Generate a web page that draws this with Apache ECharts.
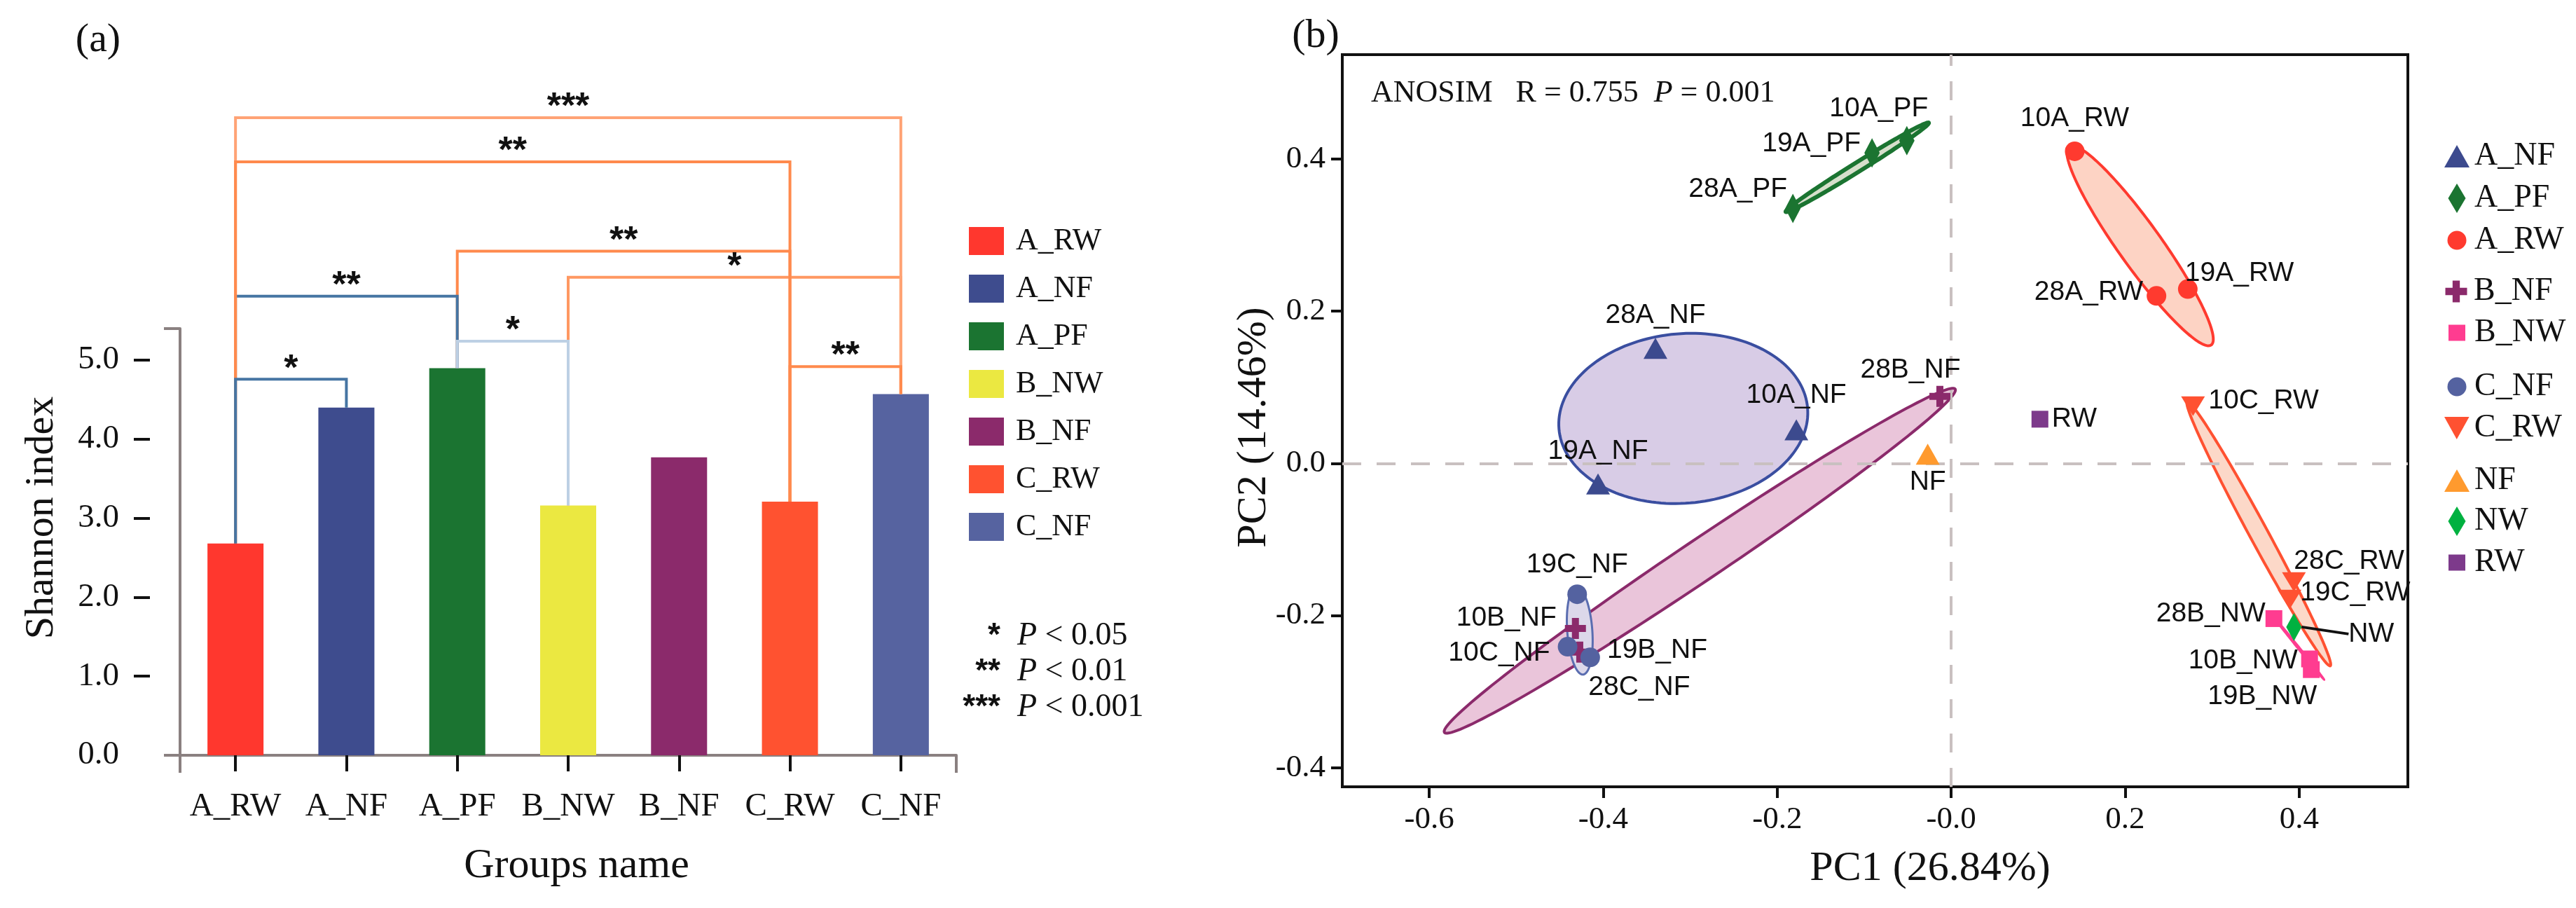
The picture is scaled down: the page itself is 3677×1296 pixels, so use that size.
<!DOCTYPE html>
<html><head><meta charset="utf-8">
<script src="https://cdn.jsdelivr.net/npm/echarts@6/dist/echarts.min.js"></script>
<style>html,body{margin:0;padding:0;background:#fff}#c{width:3677px;height:1296px}</style>
</head><body><div id="c"></div>
<script>
// ---------- panel (a) data ----------
const groups = ['A_RW','A_NF','A_PF','B_NW','B_NF','C_RW','C_NF'];
const shannon = [2.68, 4.40, 4.90, 3.16, 3.77, 3.21, 4.57];
const yTicksA = [0, 1, 2, 3, 4, 5];
// significance brackets (drawing order): from group index, to group index, bracket level, stars
const bracketFrom  = [2, 3, 0, 0, 0, 5, 2, 0];
const bracketTo    = [5, 6, 2, 6, 5, 6, 3, 1];
const bracketLevel = [6.38, 6.05, 5.81, 8.07, 7.51, 4.92, 5.24, 4.76];
const bracketStars = ['**', '*', '**', '***', '**', '**', '*', '*'];
const sigStars = ['*', '**', '***'];
const sigLevels = ['0.05', '0.01', '0.001'];

// ---------- panel (b) data ----------
const pcaGroups = ['A_NF','A_PF','A_RW','B_NF','B_NW','C_NF','C_RW','NF','NW','RW'];
const pts_A_NF = [[-0.178, 0.044, '10A_NF'], [-0.406, -0.027, '19A_NF'], [-0.340, 0.151, '28A_NF']];
const pts_A_PF = [[-0.051, 0.424, '10A_PF'], [-0.091, 0.408, '19A_PF'], [-0.182, 0.335, '28A_PF']];
const pts_A_RW = [[0.142, 0.410, '10A_RW'], [0.272, 0.229, '19A_RW'], [0.236, 0.220, '28A_RW']];
const pts_B_NF = [[-0.432, -0.217, '10B_NF'], [-0.427, -0.248, '19B_NF'], [-0.013, 0.088, '28B_NF']];
const pts_B_NW = [[0.412, -0.257, '10B_NW'], [0.414, -0.271, '19B_NW'], [0.371, -0.204, '28B_NW']];
const pts_C_NF = [[-0.441, -0.241, '10C_NF'], [-0.430, -0.172, '19C_NF'], [-0.415, -0.255, '28C_NF']];
const pts_C_RW = [[0.278, 0.075, '10C_RW'], [0.389, -0.179, '19C_RW'], [0.394, -0.156, '28C_RW']];
const pts_NF = [[-0.027, 0.012, 'NF']];
const pts_NW = [[0.394, -0.215, 'NW']];
const pts_RW = [[0.102, 0.058, 'RW']];
// ellipses: group, centre [x,y], major half-axis vector, minor half-axis vector (data units)
const ellipseGroups = ['A_NF','A_PF','A_RW','B_NF','C_NF','C_RW','B_NW'];
const ellipseCenter = [[-0.308, 0.059], [-0.108, 0.389], [0.2171, 0.2862], [-0.289, -0.128], [-0.427, -0.220], [0.3536, -0.0925], [0.399, -0.242]];
const ellipseMajor  = [[0.1429, 0.0137], [0.0822, 0.0584], [0.0818, -0.1307], [0.2936, 0.2255], [-0.0032, 0.0575], [0.0822, -0.1735], [0.0298, -0.0423]];
const ellipseMinor  = [[0.0081, -0.111], [0.0028, -0.0051], [0.0200, 0.0164], [0.0130, -0.0222], [0.0145, -0.001], [0.0092, 0.0057], [0.0008, 0.0006]];
const pcaXTicks = [-0.6, -0.4, -0.2, 0, 0.2, 0.4];
const pcaXTickLabels = ['-0.6', '-0.4', '-0.2', '-0.0', '0.2', '0.4'];
const pcaYTicks = [-0.4, -0.2, 0, 0.2, 0.4];
const pcaYTickLabels = ['-0.4', '-0.2', '0.0', '0.2', '0.4'];

// ---------- styles ----------
const SERIF = 'Liberation Serif';
const SANS = 'Liberation Sans';
const INK = '#111111';
const AXGREY = '#8a8080';
const barColors = ['#ff372e', '#3e4c8e', '#1b7431', '#ebe841', '#8b2a6b', '#ff5230', '#5663a0'];
const bracketColors = ['#ff8a4d', '#ff9862', '#4675a3', '#ffa375', '#ff8a4d', '#ff8a4d', '#bdd0e4', '#4675a3'];
const pcaColor = {A_NF:'#3c4a8e', A_PF:'#1b7431', A_RW:'#ff3a2f', B_NF:'#8b2a6b', B_NW:'#ff3c90', C_NF:'#5462a0', C_RW:'#ff5131', NF:'#ff9a2e', NW:'#00b140', RW:'#7d3a8b'};
const CROSS = 'path://M2,0H4V2H6V4H4V6H2V4H0V2H2Z';
const DOWNTRI = 'path://M0,0H10L5,9Z';
const pcaSymbol = {A_NF:'triangle', A_PF:'diamond', A_RW:'circle', B_NF:CROSS, B_NW:'rect', C_NF:'circle', C_RW:'triangle', NF:'triangle', NW:'diamond', RW:'rect'};
const pcaRotate = {C_RW:180};
const pcaSize = {A_NF:[34,30], A_PF:[22,42], A_RW:28, B_NF:30, B_NW:24, C_NF:28, C_RW:[34,28], NF:[34,30], NW:[22,40], RW:24};
const legendIcon = {A_NF:'triangle', A_PF:'diamond', A_RW:'circle', B_NF:CROSS, B_NW:'rect', C_NF:'circle', C_RW:DOWNTRI, NF:'triangle', NW:'diamond', RW:'rect'};
const legendIconSize = {A_NF:[36,32], A_PF:[25,42], A_RW:[27,27], B_NF:[33,31], B_NW:[24,23], C_NF:[27,27], C_RW:[36,32], NF:[36,32], NW:[25,42], RW:[24,23]};
const legendRowY = [222, 282, 342, 415, 474, 551, 610, 685, 743, 802];
const ellFill = {A_NF:'#d8cce6', A_PF:'#d6dfcb', A_RW:'#fdd3c4', B_NF:'#eac5da', C_NF:'#dcd8ea', C_RW:'#fcd8c8', B_NW:'rgba(0,0,0,0)'};
const ellStroke = {A_NF:'#3a4ea0', A_PF:'#1b7431', A_RW:'#ff3a2f', B_NF:'#8b2a6b', C_NF:'#5a6db0', C_RW:'#ff5131', B_NW:'#ff3c90'};
const ellWidth = {A_NF:4, A_PF:6, A_RW:4, B_NF:4, C_NF:3, C_RW:4, B_NW:3};
const labelPlace = {
  '10A_PF':['top',[-40,0]], '19A_PF':['left',[0,-13]], '28A_PF':['left',[8,-27]],
  '28A_NF':['top',[0,-8]], '10A_NF':['top',[0,-10]], '19A_NF':['top',[0,-7]],
  '28B_NF':['top',[-42,2]], 'NF':['bottom',[0,0]], 'RW':['right',[0,0]],
  '10A_RW':['top',[0,-8]], '28A_RW':['left',[0,-5]], '19A_RW':['right',[-23,-22]],
  '10C_RW':['right',[0,-8]], '28C_RW':['right',[-22,-30]], '19C_RW':['right',[-7,-10]],
  '28B_NW':['left',[5,-7]], 'NW':['right',[0,0]], '10B_NW':['left',[0,3]], '19B_NW':['bottom',[-70,2]],
  '19C_NF':['top',[0,-3]], '10B_NF':['left',[-7,-15]], '10C_NF':['left',[-6,9]], '19B_NF':['right',[19,-2]], '28C_NF':['bottom',[70,4]]
};
const pcaPoints = {A_NF:pts_A_NF, A_PF:pts_A_PF, A_RW:pts_A_RW, B_NF:pts_B_NF, B_NW:pts_B_NW, C_NF:pts_C_NF, C_RW:pts_C_RW, NF:pts_NF, NW:pts_NW, RW:pts_RW};

function pick(ticks, labels, v) {
  for (let i = 0; i < ticks.length; i++) if (Math.abs(ticks[i] - v) < 1e-9) return labels[i];
  return '';
}

const chart = echarts.init(document.getElementById('c'), null, {renderer: 'canvas', width: 3677, height: 1296});

const series = [];
// bars: one series per group so the legend lists each group
groups.forEach((g, i) => {
  series.push({
    type: 'bar', name: g, xAxisIndex: 0, yAxisIndex: 0,
    data: groups.map((_, j) => (j === i ? shannon[i] : '-')),
    barWidth: 80, barGap: '-100%', itemStyle: {color: barColors[i]}, z: 2
  });
});
// significance brackets
series.push({
  type: 'custom', name: 'brackets', xAxisIndex: 0, yAxisIndex: 0, clip: false, z: 4,
  encode: {x: 0, y: 2},
  data: bracketFrom.map((f, i) => [f, bracketTo[i], bracketLevel[i], shannon[f], shannon[bracketTo[i]]]),
  renderItem: function (params, api) {
    const i = params.dataIndex;
    const a = api.value(0), b = api.value(1), lv = api.value(2);
    const p1 = api.coord([a, api.value(3)]);
    const p2 = api.coord([a, lv]);
    const p3 = api.coord([b, lv]);
    const p4 = api.coord([b, api.value(4)]);
    return {type: 'group', children: [
      {type: 'polyline', shape: {points: [p1, p2, p3, p4]}, style: {stroke: bracketColors[i], lineWidth: 4, fill: null, lineJoin: 'miter'}},
      {type: 'text', x: (p2[0] + p3[0]) / 2, y: p2[1] - 14,
        style: {text: bracketStars[i], fontFamily: SANS, fontWeight: 'bold', fontSize: 52, fill: INK, align: 'center', verticalAlign: 'middle'}}
    ]};
  }
});
// ellipses
series.push({
  type: 'custom', name: 'ellipses', xAxisIndex: 2, yAxisIndex: 2, z: 2,
  encode: {x: 0, y: 1},
  data: ellipseGroups.map((g, i) => [ellipseCenter[i][0], ellipseCenter[i][1], ellipseMajor[i][0], ellipseMajor[i][1], ellipseMinor[i][0], ellipseMinor[i][1]]),
  renderItem: function (params, api) {
    const g = ellipseGroups[params.dataIndex];
    const cx = api.value(0), cy = api.value(1), ux = api.value(2), uy = api.value(3), vx = api.value(4), vy = api.value(5);
    const pts = [];
    for (let k = 0; k < 160; k++) {
      const t = 2 * Math.PI * k / 160;
      pts.push(api.coord([cx + ux * Math.cos(t) + vx * Math.sin(t), cy + uy * Math.cos(t) + vy * Math.sin(t)]));
    }
    return {type: 'polygon', shape: {points: pts}, style: {fill: ellFill[g], stroke: ellStroke[g], lineWidth: ellWidth[g]}};
  }
});
// zero reference lines
series.push({
  type: 'scatter', name: 'zero', xAxisIndex: 2, yAxisIndex: 2, data: [], z: 3,
  markLine: {silent: true, symbol: 'none', label: {show: false}, animation: false,
    lineStyle: {color: '#c9c0c0', type: [27, 22], width: 4},
    data: [{xAxis: 0}, {yAxis: 0}]}
});
// PCA points
pcaGroups.forEach(g => {
  const s = {
    type: 'scatter', name: 'pca:' + g, xAxisIndex: 2, yAxisIndex: 2, z: 5,
    symbol: pcaSymbol[g], symbolSize: pcaSize[g], symbolRotate: pcaRotate[g] || 0,
    itemStyle: {color: pcaColor[g], opacity: 1},
    label: {show: true, formatter: p => p.name, fontFamily: SANS, fontSize: 39, color: INK},
    data: pcaPoints[g].map(p => ({name: p[2], value: [p[0], p[1]],
      label: {position: labelPlace[p[2]][0], offset: labelPlace[p[2]][1]}}))
  };
  if (g === 'NW') {
    s.labelLayout = {dx: 62, dy: 10};
    s.labelLine = {show: true, lineStyle: {color: INK, width: 4}};
  }
  series.push(s);
});

// legends
const legends = [{
  show: true, orient: 'vertical', left: 1383, top: 322, padding: 0,
  itemWidth: 50, itemHeight: 40, itemGap: 24, icon: 'rect',
  data: groups,
  textStyle: {fontFamily: SERIF, fontSize: 44, color: INK, lineHeight: 40, padding: [0, 0, 0, 12]}
}];
pcaGroups.forEach((g, i) => {
  const w = legendIconSize[g][0], h = legendIconSize[g][1];
  legends.push({
    show: true, orient: 'vertical', left: 3507 - w / 2, top: legendRowY[i] - 22, padding: 0,
    itemWidth: w, itemHeight: h, itemGap: 0,
    data: [{name: 'pca:' + g, icon: legendIcon[g]}],
    formatter: n => n.slice(4),
    textStyle: {fontFamily: SERIF, fontSize: 46, color: INK, lineHeight: 44, padding: [0, 0, 0, Math.max(0, 20 - w / 2)]}
  });
});

// free texts
const graphics = [
  {type: 'text', x: 140, y: 58, style: {text: '(a)', fontFamily: SERIF, fontSize: 58, fill: INK, align: 'center', verticalAlign: 'middle'}},
  {type: 'text', x: 1878, y: 52, style: {text: '(b)', fontFamily: SERIF, fontSize: 58, fill: INK, align: 'center', verticalAlign: 'middle'}},
  {type: 'text', x: 60, y: 739, rotation: Math.PI / 2, style: {text: 'Shannon index', fontFamily: SERIF, fontSize: 58, fill: INK, align: 'center', verticalAlign: 'middle'}},
  {type: 'text', x: 823, y: 1236, style: {text: 'Groups name', fontFamily: SERIF, fontSize: 60, fill: INK, align: 'center', verticalAlign: 'middle'}},
  {type: 'text', x: 2755, y: 1240, style: {text: 'PC1 (26.84%)', fontFamily: SERIF, fontSize: 60, fill: INK, align: 'center', verticalAlign: 'middle'}},
  {type: 'text', x: 1790, y: 610, rotation: Math.PI / 2, style: {text: 'PC2 (14.46%)', fontFamily: SERIF, fontSize: 60, fill: INK, align: 'center', verticalAlign: 'middle'}},
  {type: 'text', x: 1957, y: 133, style: {
    text: '{n|ANOSIM   R = 0.755  }{i|P}{n| = 0.001}', align: 'left', verticalAlign: 'middle',
    rich: {n: {fontFamily: SERIF, fontSize: 44, fill: INK}, i: {fontFamily: SERIF, fontSize: 44, fontStyle: 'italic', fill: INK}}}}
];
const sigRowY = [908, 959, 1010];
sigStars.forEach((s, i) => {
  graphics.push({type: 'text', x: 1428, y: sigRowY[i], style: {text: s, fontFamily: SANS, fontWeight: 'bold', fontSize: 46, fill: INK, align: 'right', verticalAlign: 'middle'}});
  graphics.push({type: 'text', x: 1452, y: sigRowY[i], style: {
    text: '{i|P}{n| < ' + sigLevels[i] + '}', align: 'left', verticalAlign: 'middle',
    rich: {n: {fontFamily: SERIF, fontSize: 46, fill: INK}, i: {fontFamily: SERIF, fontSize: 46, fontStyle: 'italic', fill: INK}}}});
});

const option = {
  animation: false,
  backgroundColor: '#ffffff',
  textStyle: {fontFamily: SERIF, color: INK},
  grid: [
    {left: 257, top: 469, width: 1108, height: 609, show: false},
    {left: 1916, top: 78, width: 1521, height: 1045, show: true, borderColor: INK, borderWidth: 4, backgroundColor: 'transparent'}
  ],
  xAxis: [
    {type: 'category', gridIndex: 0, data: groups, position: 'bottom', offset: 20,
      axisLine: {show: true, lineStyle: {color: AXGREY, width: 4}},
      axisTick: {show: true, alignWithLabel: true, interval: 0, length: 23, lineStyle: {color: INK, width: 4}},
      axisLabel: {show: true, interval: 0, margin: 30, fontFamily: SERIF, fontSize: 47, color: INK},
      splitLine: {show: false}},
    {type: 'value', gridIndex: 0, min: 0, max: 7, position: 'bottom', offset: 20,
      axisLine: {show: false},
      axisTick: {show: true, customValues: [0, 7], length: 25, lineStyle: {color: AXGREY, width: 4}},
      axisLabel: {show: false}, splitLine: {show: false}},
    {type: 'value', gridIndex: 1, min: -0.70, max: 0.525, position: 'bottom',
      axisLine: {show: true, onZero: false, lineStyle: {color: INK, width: 4}},
      axisTick: {show: true, customValues: pcaXTicks, length: 16, lineStyle: {color: INK, width: 4}},
      axisLabel: {show: true, customValues: pcaXTicks, margin: 25, fontFamily: SERIF, fontSize: 45, color: INK,
        formatter: v => pick(pcaXTicks, pcaXTickLabels, v)},
      splitLine: {show: false}}
  ],
  yAxis: [
    {type: 'value', gridIndex: 0, min: 0, max: 5.4, position: 'left', offset: 43,
      axisLine: {show: true, lineStyle: {color: AXGREY, width: 4}},
      axisTick: {show: true, customValues: [0, 5.4], length: 23, lineStyle: {color: AXGREY, width: 4}},
      axisLabel: {show: false}, splitLine: {show: false}},
    {type: 'value', gridIndex: 0, min: 0, max: 5.4, position: 'left', offset: 43,
      axisLine: {show: false},
      axisTick: {show: true, customValues: yTicksA.filter(v => v > 0), length: 23, lineStyle: {color: INK, width: 4}},
      axisLabel: {show: true, customValues: yTicksA, margin: 44, fontFamily: SERIF, fontSize: 47, color: INK,
        formatter: v => v.toFixed(1)},
      splitLine: {show: false}},
    {type: 'value', gridIndex: 1, min: -0.425, max: 0.537, position: 'left',
      axisLine: {show: true, onZero: false, lineStyle: {color: INK, width: 4}},
      axisTick: {show: true, customValues: pcaYTicks, length: 16, lineStyle: {color: INK, width: 4}},
      axisLabel: {show: true, customValues: pcaYTicks, margin: 24, fontFamily: SERIF, fontSize: 45, color: INK,
        formatter: v => pick(pcaYTicks, pcaYTickLabels, v)},
      splitLine: {show: false}}
  ],
  legend: legends,
  series: series,
  graphic: graphics
};
chart.setOption(option);
</script></body></html>
